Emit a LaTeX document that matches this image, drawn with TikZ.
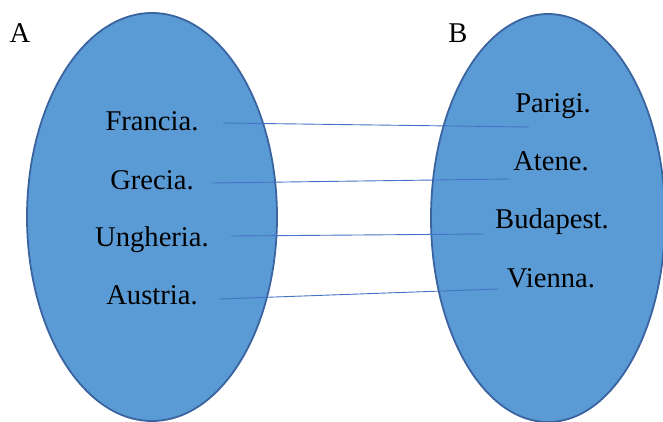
\documentclass[tikz,border=0pt]{standalone}
\usepackage{fontspec}
\setmainfont{Liberation Serif}
\begin{document}
\begin{tikzpicture}[x=1pt,y=-1pt,
  setshape/.style={draw=setborder,line width=1.8pt,fill=setfill},
  lbl/.style={inner sep=0pt,anchor=base,font=\fontsize{28.6}{34}\selectfont},
  link/.style={draw=linkblue,line width=0.9pt}]
\definecolor{setfill}{HTML}{5B9BD5}
\definecolor{setborder}{HTML}{3A64A0}
\definecolor{linkblue}{HTML}{4472C4}
\useasboundingbox (0,0) rectangle (663,421);
\path[setshape] (152,217) ellipse [x radius=125, y radius=204];
\path[setshape] (548,218) ellipse [x radius=117, y radius=204];
\node[lbl] (A) at (20,42) {A};
\node[lbl] (B) at (458,42) {B};
\node[lbl] (fr) at (152,130.5) {Francia.};
\node[lbl] (gr) at (152,189) {Grecia.};
\node[lbl] (un) at (152,246) {Ungheria.};
\node[lbl] (au) at (152,304) {Austria.};
\node[lbl] (pa) at (553,112) {Parigi.};
\node[lbl] (at) at (551,170) {Atene.};
\node[lbl] (bu) at (552,228) {Budapest.};
\node[lbl] (vi) at (551,287) {Vienna.};
\coordinate (fr1) at (223,123);
\coordinate (pa1) at (529,127);
\coordinate (gr1) at (212,183);
\coordinate (at1) at (509,179);
\coordinate (un1) at (231,236);
\coordinate (bu1) at (483,234);
\coordinate (au1) at (219,299);
\coordinate (vi1) at (498,289);
\draw[link] (fr1) -- (pa1);
\draw[link] (gr1) -- (at1);
\draw[link] (un1) -- (bu1);
\draw[link] (au1) -- (vi1);
\end{tikzpicture}
\end{document}
